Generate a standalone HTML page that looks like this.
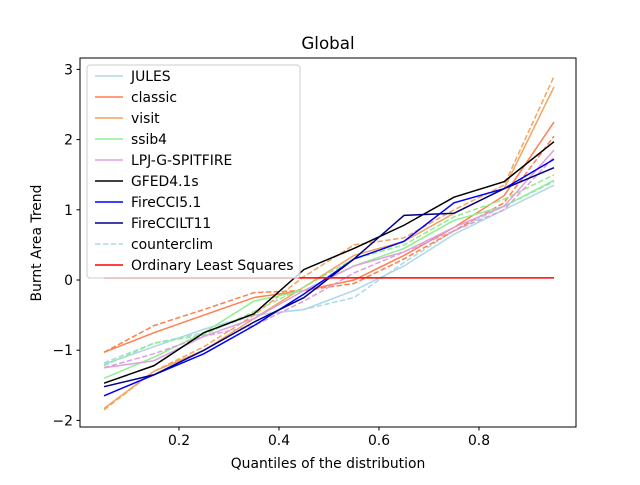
<!DOCTYPE html>
<html><head><meta charset="utf-8"><style>body{margin:0;background:#fff}svg{font-family:"DejaVu Sans","Liberation Sans",sans-serif}</style></head>
<body>
<svg id="c" width="640" height="480"></svg>
<script>
const quantiles=[0.05,0.15,0.25,0.35,0.45,0.55,0.65,0.75,0.85,0.95];
const julesV=[-1.2,-0.95,-0.7,-0.5,-0.42,-0.15,0.2,0.65,1.0,1.35];
const classicV=[-1.03,-0.75,-0.5,-0.25,-0.15,0.0,0.35,0.75,1.2,2.25];
const visitV=[-1.83,-1.3,-1.0,-0.55,-0.1,0.35,0.55,0.95,1.3,2.75];
const ssib4V=[-1.4,-1.1,-0.75,-0.3,-0.15,0.2,0.45,0.85,1.05,1.42];
const lpjV=[-1.25,-1.15,-0.8,-0.55,-0.15,0.2,0.4,0.75,1.05,1.85];
const gfedV=[-1.47,-1.22,-0.75,-0.48,0.15,0.45,0.78,1.18,1.4,1.97];
const cci51V=[-1.65,-1.35,-1.05,-0.65,-0.2,0.3,0.55,1.1,1.3,1.72];
const ccilt11V=[-1.52,-1.35,-1.0,-0.6,-0.25,0.3,0.92,0.95,1.3,1.6];
const julesCC=[-1.18,-0.9,-0.75,-0.5,-0.42,-0.25,0.25,0.7,1.05,1.4];
const classicCC=[-1.03,-0.65,-0.42,-0.18,-0.15,-0.05,0.3,0.7,1.1,2.05];
const visitCC=[-1.85,-1.3,-0.95,-0.5,0.05,0.5,0.6,1.0,1.35,2.9];
const ssib4CC=[-1.22,-0.9,-0.78,-0.45,-0.1,0.3,0.5,0.9,1.15,1.5];
const lpjCC=[-1.25,-1.05,-0.8,-0.65,-0.3,0.1,0.4,0.7,1.0,1.75];
const olsV=[0.03,0.03];
const xTicks=[0.2,0.4,0.6,0.8];
const yTicks=[-2,-1,0,1,2,3];
const legendLabels=["JULES","classic","visit","ssib4","LPJ-G-SPITFIRE","GFED4.1s","FireCCI5.1","FireCCILT11","counterclim","Ordinary Least Squares"];

const L=80,R=576,T=58,B=427;
const X=v=>79+v*500, Y=v=>280-v*70.2;
const s=document.getElementById('c'),NS="http://www.w3.org/2000/svg";
function el(t,a,p){const e=document.createElementNS(NS,t);for(const k in a)e.setAttribute(k,a[k]);(p||s).appendChild(e);return e;}
function line(xs,ys,col,dash,name){
  const p=el('polyline',{points:xs.map((x,i)=>X(x)+','+Y(ys[i])).join(' '),fill:'none',stroke:col,'stroke-width':1.5,'stroke-dasharray':dash?'5.5,2.4':'none'});
  
  
}
const series=[["jules",julesV,julesCC,"#add8e6"],["classic",classicV,classicCC,"#ff7f50"],["visit",visitV,visitCC,"#f4a460"],["ssib4",ssib4V,ssib4CC,"#90ee90"],["lpj",lpjV,lpjCC,"#dda0dd"]];
series.forEach(d=>{line(quantiles,d[1],d[3],false,d[0]+'-line');line(quantiles,d[2],d[3],true,d[0]+'-counterclim-line');});
line(quantiles,gfedV,"#000",false,'gfed-line');
line(quantiles,cci51V,"#0000ff",false,'firecci51-line');
line(quantiles,ccilt11V,"#00008b",false,'fireccilt11-line');
line([quantiles[0],quantiles[9]],olsV,"#ff0000",false,'ols-line');
const fr=el('rect',{x:L,y:T,width:R-L,height:B-T,fill:'none',stroke:'#000','stroke-width':1});

xTicks.forEach(t=>{el('line',{x1:X(t),x2:X(t),y1:B,y2:B+3.5,stroke:'#000'});const tx=el('text',{x:X(t),y:B+18,'font-size':13.9,'text-anchor':'middle'});tx.textContent=t.toFixed(1);});
yTicks.forEach(t=>{el('line',{x1:L,x2:L-3.5,y1:Y(t),y2:Y(t),stroke:'#000'});const tx=el('text',{x:L-7,y:Y(t)+5,'font-size':13.9,'text-anchor':'end'});tx.textContent=t<0?'\u2212'+(-t):t;});
let t1=el('text',{x:328,y:49,'font-size':16.7,'text-anchor':'middle'});t1.textContent='Global';
let t2=el('text',{x:328,y:468,'font-size':13.9,'text-anchor':'middle'});t2.textContent='Quantiles of the distribution';
let t3=el('text',{x:0,y:0,'font-size':13.9,'text-anchor':'middle',transform:'translate(41,243) rotate(-90)'});t3.textContent='Burnt Area Trend';
const g=el('g',{});
el('rect',{x:87,y:65,width:213,height:213,rx:3,fill:'rgba(255,255,255,0.8)',stroke:'#ccc'},g);
const lc=["#add8e6","#ff7f50","#f4a460","#90ee90","#dda0dd","#000","#0000ff","#00008b","#add8e6","#ff0000"];
legendLabels.forEach((lab,i)=>{const y=76+i*21;
 const e=el('g',{},g);
 el('line',{x1:95,x2:123,y1:y,y2:y,stroke:lc[i],'stroke-width':1.5,'stroke-dasharray':i==8?'5.5,2.4':'none'},e);
 const tx=el('text',{x:131,y:y+5,'font-size':13.9},e);tx.textContent=lab;});
</script>
</body></html>
